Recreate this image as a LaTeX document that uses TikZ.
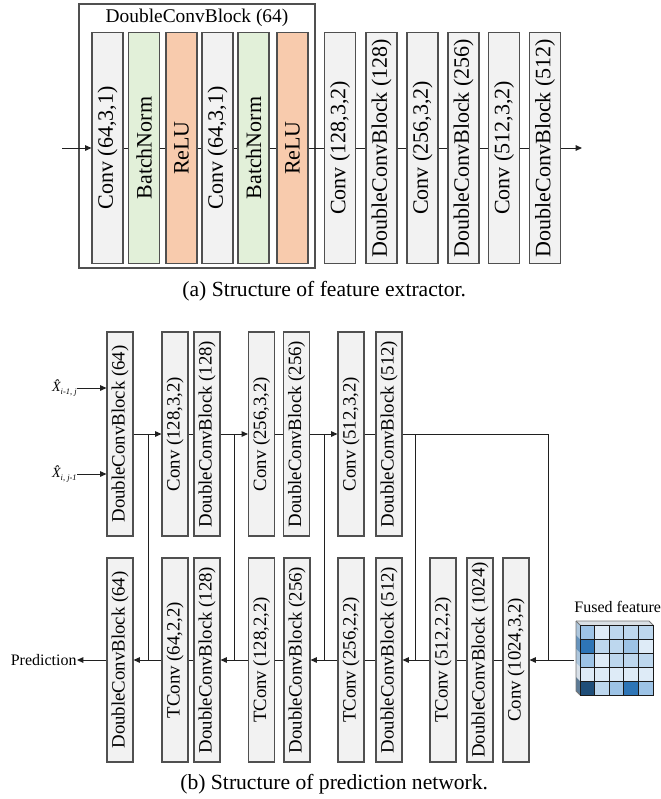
\documentclass[tikz,border=0pt]{standalone}
\usepackage{fontspec}
\usepackage{graphicx}
\setmainfont{Liberation Serif}
\usetikzlibrary{arrows.meta}
\definecolor{gfill}{HTML}{F2F2F2}
\definecolor{greenf}{HTML}{E2F0D9}
\definecolor{orangef}{HTML}{F8CBAD}
\definecolor{bordc}{HTML}{505050}
\definecolor{linec}{HTML}{202020}
\definecolor{cA}{HTML}{DEEBF7}
\definecolor{cB}{HTML}{BDD7EE}
\definecolor{cC}{HTML}{9DC3E6}
\definecolor{cD}{HTML}{2E75B6}
\definecolor{cE}{HTML}{1F4E79}
\definecolor{gridc}{HTML}{1A1A1A}
\newcommand{\xsub}[1]{\raisebox{-0.35ex}{\fontsize{4.2}{5}\selectfont\itshape #1}}
\begin{document}
\begin{tikzpicture}[x=0.5pt,y=-0.5pt,
  blkbase/.style={draw=bordc, line width=0.55pt, inner sep=0pt, anchor=center},
  tb/.style={blkbase, minimum width=15.5pt, minimum height=115.5pt, font=\fontsize{11}{13}\selectfont},
  bb/.style={blkbase, fill=gfill, minimum width=13pt, minimum height=102pt, font=\fontsize{9.4}{11}\selectfont},
  conn/.style={draw=linec, line width=0.5pt},
  arr/.style={conn, -{Triangle[length=3.2pt,width=2.8pt]}},
  smalltxt/.style={font=\fontsize{8}{9.5}\selectfont, inner sep=0pt},
  xtxt/.style={font=\fontsize{7}{8}\selectfont\itshape, inner sep=0pt, anchor=east},
  captxt/.style={font=\fontsize{10.8}{13}\selectfont, inner sep=0pt, anchor=west}
]
\useasboundingbox (0,0) rectangle (660,799);

% ---------- (a) feature extractor ----------
\node[draw=bordc, line width=0.6pt, minimum width=118pt, minimum height=132pt, inner sep=0pt] (outer) at (197,136) {};
\node[font=\fontsize{9.7}{11}\selectfont, inner sep=0pt] (title) at (197,18) {DoubleConvBlock (64)};

\node[tb, fill=gfill]   (t1)  at (107.5,148) {\rotatebox{90}{Conv (64,3,1)}};
\node[tb, fill=greenf]  (t2)  at (144,148)   {\rotatebox{90}{BatchNorm}};
\node[tb, fill=orangef] (t3)  at (181.5,148) {\rotatebox{90}{ReLU}};
\node[tb, fill=gfill]   (t4)  at (217.5,148) {\rotatebox{90}{Conv (64,3,1)}};
\node[tb, fill=greenf]  (t5)  at (253.5,148) {\rotatebox{90}{BatchNorm}};
\node[tb, fill=orangef] (t6)  at (292.5,148) {\rotatebox{90}{ReLU}};
\node[tb, fill=gfill]   (t7)  at (340,148)   {\rotatebox{90}{Conv (128,3,2)}};
\node[tb, fill=gfill]   (t8)  at (381.5,148) {\rotatebox{90}{DoubleConvBlock (128)}};
\node[tb, fill=gfill]   (t9)  at (422.5,148) {\rotatebox{90}{Conv (256,3,2)}};
\node[tb, fill=gfill]   (t10) at (463.5,148) {\rotatebox{90}{DoubleConvBlock (256)}};
\node[tb, fill=gfill]   (t11) at (504,148)   {\rotatebox{90}{Conv (512,3,2)}};
\node[tb, fill=gfill]   (t12) at (545,148)   {\rotatebox{90}{DoubleConvBlock (512)}};

\coordinate (tin) at (62,148);
\coordinate (tout) at (582,148);
\draw[arr] (tin) -- (t1.west);
\foreach \a/\b in {t1/t2,t2/t3,t3/t4,t4/t5,t5/t6,t6/t7,t7/t8,t8/t9,t9/t10,t10/t11,t11/t12}
  \draw[conn] (\a.east) -- (\b.west);
\draw[arr] (t12.east) -- (tout);

\node[captxt] (capa) at (182,291) {(a) Structure of feature extractor.};

% ---------- (b) prediction network ----------
\node[bb] (u1) at (120,434)   {\rotatebox{90}{DoubleConvBlock (64)}};
\node[bb] (u2) at (175,434)   {\rotatebox{90}{Conv (128,3,2)}};
\node[bb] (u3) at (207,434)   {\rotatebox{90}{DoubleConvBlock (128)}};
\node[bb] (u4) at (261.5,434) {\rotatebox{90}{Conv (256,3,2)}};
\node[bb] (u5) at (296.5,434) {\rotatebox{90}{DoubleConvBlock (256)}};
\node[bb] (u6) at (351,434)   {\rotatebox{90}{Conv (512,3,2)}};
\node[bb] (u7) at (389,434)   {\rotatebox{90}{DoubleConvBlock (512)}};

\node[bb] (l1)  at (120,660)   {\rotatebox{90}{DoubleConvBlock (64)}};
\node[bb] (l2)  at (175,660)   {\rotatebox{90}{TConv (64,2,2)}};
\node[bb] (l3)  at (207,660)   {\rotatebox{90}{DoubleConvBlock (128)}};
\node[bb] (l4)  at (261.5,660) {\rotatebox{90}{TConv (128,2,2)}};
\node[bb] (l5)  at (297,660)   {\rotatebox{90}{DoubleConvBlock (256)}};
\node[bb] (l6)  at (351,660)   {\rotatebox{90}{TConv (256,2,2)}};
\node[bb] (l7)  at (389,660)   {\rotatebox{90}{DoubleConvBlock (512)}};
\node[bb] (l8)  at (443,660)   {\rotatebox{90}{TConv (512,2,2)}};
\node[bb] (l9)  at (480,660)   {\rotatebox{90}{DoubleConvBlock (1024)}};
\node[bb] (l10) at (516,660)   {\rotatebox{90}{Conv (1024,3,2)}};

% inputs
\node[xtxt] (xa) at (77,388) {X̂\xsub{i-1, j}};
\node[xtxt] (xb) at (77,474) {X̂\xsub{i, j-1}};
\draw[arr] (xa.east) -- (xa.east -| u1.west);
\draw[arr] (xb.east) -- (xb.east -| u1.west);

% encoder path with skips
\coordinate (j1t) at (148,434); \coordinate (j1b) at (148,660);
\coordinate (j2t) at (234,434); \coordinate (j2b) at (234,660);
\coordinate (j3t) at (324,434); \coordinate (j3b) at (324,660);
\coordinate (j4t) at (415,434); \coordinate (j4b) at (415,660);
\coordinate (j5t) at (548,434); \coordinate (j5b) at (548,660);

\draw[arr] (u1.east) -- (u2.west);
\draw[conn] (u2.east) -- (u3.west);
\draw[arr] (u3.east) -- (u4.west);
\draw[conn] (u4.east) -- (u5.west);
\draw[arr] (u5.east) -- (u6.west);
\draw[conn] (u6.east) -- (u7.west);
\draw[conn] (u7.east) -- (j5t) -- (j5b);
\draw[conn] (j1t) -- (j1b);
\draw[conn] (j2t) -- (j2b);
\draw[conn] (j3t) -- (j3b);
\draw[conn] (j4t) -- (j4b);

% decoder path
\draw[conn] (l10.west) -- (l9.east);
\draw[conn] (l9.west) -- (l8.east);
\draw[arr] (l8.west) -- (l7.east);
\draw[conn] (l7.west) -- (l6.east);
\draw[arr] (l6.west) -- (l5.east);
\draw[conn] (l5.west) -- (l4.east);
\draw[arr] (l4.west) -- (l3.east);
\draw[conn] (l3.west) -- (l2.east);
\draw[arr] (l2.west) -- (l1.east);

\node[smalltxt, anchor=east] (pred) at (77,660) {Prediction};
\draw[arr] (l1.west) -- (pred.east);

% fused feature grid
\node[smalltxt, anchor=west] (flabel) at (574,607) {Fused feature};
\fill[cA!70!gray!60] (576,621) -- (649,621) -- (653,625) -- (580,625) -- cycle;
\foreach \r/\lc in {0/cC,1/cD,2/cC,3/cA,4/cE}
  \fill[\lc!75!white!85!gray] (576,{621+\r*14}) -- (580,{625+\r*14}) -- (580,{625+(\r+1)*14}) -- (576,{621+(\r+1)*14}) -- cycle;
\foreach \row [count=\r from 0] in {{cC,cA,cB,cB,cB},{cD,cB,cB,cC,cA},{cC,cA,cB,cB,cB},{cA,cA,cA,cA,cA},{cE,cB,cC,cD,cC}}
  \foreach \c [count=\k from 0] in \row
    \fill[\c] ({580+\k*14.6},{625+\r*14}) rectangle ({580+(\k+1)*14.6},{625+(\r+1)*14});
\foreach \k in {1,2,3,4} {
  \draw[gridc, line width=0.5pt] ({580+\k*14.6},625) -- ({580+\k*14.6},695);
  \draw[gridc, line width=0.5pt] (580,{625+\k*14}) -- (653,{625+\k*14});
}
\draw[gridc!60, line width=0.4pt] (576,621) -- (649,621) -- (653,625);
\draw[gridc!60, line width=0.4pt] (576,621) -- (576,691) -- (580,695);
\draw[gridc!60, line width=0.4pt] (576,621) -- (580,625);
\node[draw=gridc, line width=0.5pt, inner sep=0pt, minimum width=36.5pt, minimum height=35pt] (fused) at (616.5,660) {};
\draw[arr] ([xshift=-3pt]fused.west) -- (l10.east);

\node[captxt] (capb) at (180,784) {(b) Structure of prediction network.};
\end{tikzpicture}
\end{document}
